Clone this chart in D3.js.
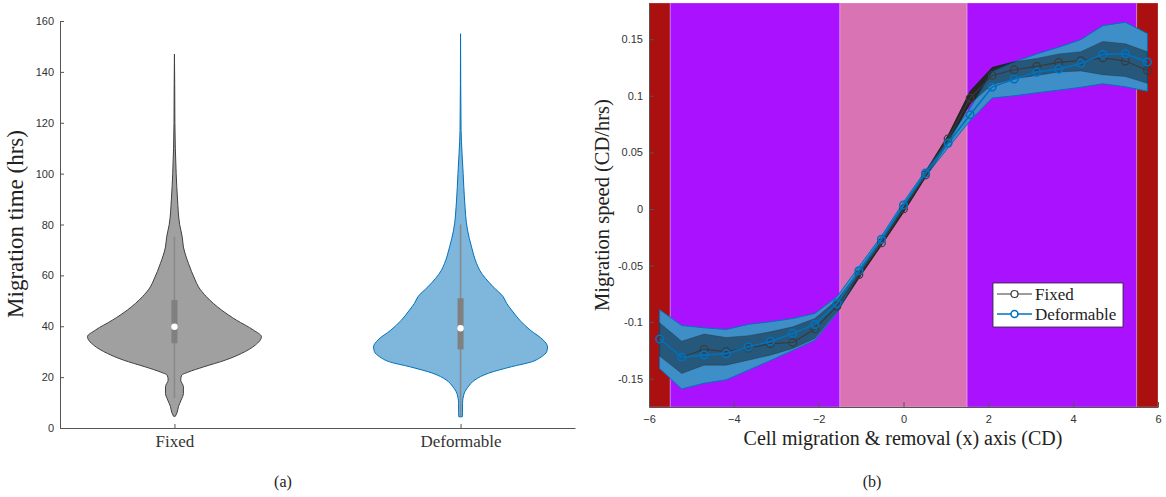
<!DOCTYPE html>
<html>
<head>
<meta charset="utf-8">
<script src="https://cdn.jsdelivr.net/npm/d3@7"></script>
<style>
  body { margin: 0; background: #fff; }
</style>
</head>
<body>
<svg id="chart" width="1166" height="497"></svg>
<script>
// ---------- data: (a) violins ----------
var groups = ["Fixed", "Deformable"];

// relative density (1 = widest point) at migration time (hrs)
var fixedHrs     = [4.6, 6, 8.4, 11, 13.6, 16.2, 18.9, 20.8, 22, 24, 26.7, 29.3, 32.6, 35.9, 38.5, 42.4, 46.4, 51.6, 55.5, 58.2, 64.7, 71.2, 75, 80, 90, 100, 110, 120, 135, 147];
var fixedDensity = [0.01, 0.03, 0.046, 0.077, 0.103, 0.103, 0.072, 0.084, 0.16, 0.333, 0.586, 0.77, 0.93, 1.0, 0.908, 0.713, 0.54, 0.368, 0.276, 0.238, 0.161, 0.103, 0.09, 0.06, 0.035, 0.02, 0.01, 0.005, 0.003, 0];

var deformHrs     = [4.4, 6, 9.7, 13.6, 16.2, 18.9, 21.5, 24.1, 26, 28, 30, 31.9, 34.6, 38.5, 42.4, 46.4, 49, 51.6, 55.5, 62, 64.7, 71.2, 77.8, 89.6, 100, 108, 117, 135, 155];
var deformDensity = [0.02, 0.022, 0.023, 0.042, 0.088, 0.165, 0.318, 0.586, 0.816, 0.93, 0.99, 1.0, 0.95, 0.80, 0.68, 0.586, 0.53, 0.49, 0.375, 0.22, 0.184, 0.126, 0.08, 0.046, 0.03, 0.017, 0.006, 0.002, 0];

// [lower whisker, q1, median, q3, upper whisker]
var fixedBox  = [11.8, 33.3, 39.8, 50.3, 75.2];
var deformBox = [4.8, 30.9, 39.2, 51.0, 80.0];

var yTicksA = [0, 20, 40, 60, 80, 100, 120, 140, 160];

// ---------- data: (b) migration speed ----------
var xPos = [-5.75, -5.23, -4.70, -4.18, -3.66, -3.14, -2.61, -2.09, -1.57, -1.05, -0.52, 0, 0.52, 1.05, 1.57, 2.09, 2.61, 3.14, 3.66, 4.18, 4.70, 5.23, 5.75];

var fixedMean = [-0.1153, -0.131, -0.124, -0.126, -0.123, -0.119, -0.118, -0.106, -0.086, -0.058, -0.030, 0.000, 0.030, 0.062, 0.098, 0.118, 0.123, 0.126, 0.1295, 0.131, 0.1335, 0.1307, 0.1224];
var fixedLo   = [-0.130, -0.1454, -0.138, -0.138, -0.1336, -0.1292, -0.1233, -0.1144, -0.0909, -0.061, -0.032, -0.003, 0.028, 0.058, 0.093, 0.110, 0.115, 0.118, 0.121, 0.122, 0.1186, 0.117, 0.111];
var fixedHi   = [-0.1006, -0.1168, -0.1106, -0.1136, -0.112, -0.1086, -0.1041, -0.0968, -0.0805, -0.055, -0.028, 0.002, 0.033, 0.065, 0.104, 0.125, 0.130, 0.133, 0.137, 0.139, 0.148, 0.146, 0.139];

var deformMean = [-0.115, -0.131, -0.129, -0.128, -0.122, -0.117, -0.110, -0.102, -0.0835, -0.0546, -0.0268, 0.0035, 0.0316, 0.0581, 0.0832, 0.1077, 0.1148, 0.121, 0.1236, 0.1286, 0.1366, 0.1372, 0.1298];
var deformLo   = [-0.141, -0.159, -0.154, -0.151, -0.1425, -0.134, -0.125, -0.116, -0.092, -0.058, -0.030, 0.001, 0.029, 0.054, 0.078, 0.098, 0.100, 0.1027, 0.105, 0.1075, 0.1106, 0.108, 0.104];
var deformHi   = [-0.089, -0.103, -0.105, -0.1065, -0.102, -0.0997, -0.0968, -0.0923, -0.0776, -0.051, -0.024, 0.006, 0.034, 0.061, 0.089, 0.1215, 0.130, 0.137, 0.143, 0.1496, 0.162, 0.165, 0.155];

// background regions along the x axis
var bandStart = [-6, -5.5, -1.5, 1.5, 5.5];
var bandEnd   = [-5.5, -1.5, 1.5, 5.5, 6];
var bandZone  = ["removal", "migration", "core", "migration", "removal"];

var xTicksB = [-6, -4, -2, 0, 2, 4, 6];
var yTicksB = [-0.15, -0.1, -0.05, 0, 0.05, 0.1, 0.15];


var serif = '"Liberation Serif", "Times New Roman", serif';
var sans = '"Liberation Sans", Arial, sans-serif';
var axisColor = '#555';
var textColor = '#333';

var svg = d3.select('#chart');

function styleAxis(g, font, size) {
  g.select('.domain').attr('stroke', axisColor);
  g.selectAll('.tick line').attr('stroke', axisColor);
  g.selectAll('.tick text')
    .attr('fill', textColor)
    .attr('font-family', font)
    .attr('font-size', size);
}

// ================= (a) =================
var xA = d3.scaleLinear().domain([0.6, 2.4]).range([60, 575]);
var yA = d3.scaleLinear().domain([0, 160]).range([428, 21]);
var wA = d3.scaleLinear().domain([0, 1]).range([0, 87]);

var gA = svg.append('g');

var violins = [
  { pos: 1, hrs: fixedHrs, den: fixedDensity, box: fixedBox, fill: '#a0a0a0', stroke: '#404040' },
  { pos: 2, hrs: deformHrs, den: deformDensity, box: deformBox, fill: '#7eb6dc', stroke: '#0072bd' }
];

violins.forEach(function (v) {
  var cx = xA(v.pos);
  var pts = v.hrs.map(function (h, i) { return { h: h, d: v.den[i] }; });

  var area = d3.area()
      .curve(d3.curveMonotoneY)
      .y(function (d) { return yA(d.h); })
      .x0(function (d) { return cx - wA(d.d); })
      .x1(function (d) { return cx + wA(d.d); });

  gA.append('path')
      .attr('d', area(pts))
      .attr('fill', v.fill)
      .attr('stroke', v.stroke)
      .attr('stroke-width', 1);

  // whisker
  gA.append('line')
      .attr('x1', cx).attr('x2', cx)
      .attr('y1', yA(v.box[0])).attr('y2', yA(v.box[4]))
      .attr('stroke', '#888')
      .attr('stroke-width', 1.5);

  // inter-quartile box
  gA.append('rect')
      .attr('x', cx - 3)
      .attr('width', 6)
      .attr('y', yA(v.box[3]))
      .attr('height', yA(v.box[1]) - yA(v.box[3]))
      .attr('fill', '#808080');

  // median
  gA.append('circle')
      .attr('cx', cx)
      .attr('cy', yA(v.box[2]))
      .attr('r', 3.2)
      .attr('fill', '#fff');
});

var axisYA = gA.append('g')
    .attr('transform', 'translate(60,0)')
    .call(d3.axisLeft(yA).tickValues(yTicksA).tickSize(-4).tickSizeOuter(0).tickPadding(6));
styleAxis(axisYA, sans, 11);

var axisXA = gA.append('g')
    .attr('transform', 'translate(0,428)')
    .call(d3.axisBottom(xA).tickValues([1, 2])
      .tickFormat(function (d, i) { return groups[i]; })
      .tickSize(-4).tickSizeOuter(0).tickPadding(7));
styleAxis(axisXA, serif, 17);

gA.append('text')
    .attr('transform', 'translate(23,224) rotate(-90)')
    .attr('text-anchor', 'middle')
    .attr('font-family', serif)
    .attr('font-size', 23)
    .attr('fill', '#222')
    .text('Migration time (hrs)');

gA.append('text')
    .attr('x', 283).attr('y', 487)
    .attr('text-anchor', 'middle')
    .attr('font-family', serif)
    .attr('font-size', 16)
    .attr('fill', '#222')
    .text('(a)');

// ================= (b) =================
var xB = d3.scaleLinear().domain([-6, 6]).range([649, 1158]);
var yB = d3.scaleLinear().domain([-0.175, 0.182]).range([407, 3]);
var zoneColor = d3.scaleOrdinal()
    .domain(['removal', 'migration', 'core'])
    .range(['#aa1010', '#aa12ff', '#d973b4']);

var gB = svg.append('g');

gB.selectAll('rect.band')
    .data(bandZone)
    .enter()
    .append('rect')
    .attr('class', 'band')
    .attr('x', function (d, i) { return xB(bandStart[i]); })
    .attr('width', function (d, i) { return xB(bandEnd[i]) - xB(bandStart[i]); })
    .attr('y', yB(0.182))
    .attr('height', yB(-0.175) - yB(0.182))
    .attr('fill', function (d) { return zoneColor(d); })
    .attr('stroke', 'rgba(255,255,255,0.3)')
    .attr('stroke-width', 0.8);

var fixedPts = xPos.map(function (x, i) { return { x: x, m: fixedMean[i], lo: fixedLo[i], hi: fixedHi[i] }; });
var deformPts = xPos.map(function (x, i) { return { x: x, m: deformMean[i], lo: deformLo[i], hi: deformHi[i] }; });

var band = d3.area()
    .x(function (d) { return xB(d.x); })
    .y0(function (d) { return yB(d.lo); })
    .y1(function (d) { return yB(d.hi); });

var line = d3.line()
    .x(function (d) { return xB(d.x); })
    .y(function (d) { return yB(d.m); });

// fixed spread where it shows outside the blue one
gB.append('path')
    .attr('d', band(fixedPts))
    .attr('fill', '#3c3c40')
    .attr('stroke', '#2a2a2a')
    .attr('stroke-width', 0.8);

// deformable spread
gB.append('path')
    .attr('d', band(deformPts))
    .attr('fill', '#3e8fc8')
    .attr('stroke', '#0072bd')
    .attr('stroke-width', 1);

// fixed spread over the blue one
gB.append('path')
    .attr('d', band(fixedPts))
    .attr('fill', '#000')
    .attr('fill-opacity', 0.38)
    .attr('stroke', '#222')
    .attr('stroke-opacity', 0.4)
    .attr('stroke-width', 0.8);

var series = [
  { name: groups[0], pts: fixedPts, color: '#3a3a3a', width: 1.2 },
  { name: groups[1], pts: deformPts, color: '#0072bd', width: 1.6 }
];

series.forEach(function (s) {
  gB.append('path')
      .attr('d', line(s.pts))
      .attr('fill', 'none')
      .attr('stroke', s.color)
      .attr('stroke-width', s.width);

  gB.selectAll(null)
      .data(s.pts)
      .enter()
      .append('circle')
      .attr('cx', function (d) { return xB(d.x); })
      .attr('cy', function (d) { return yB(d.m); })
      .attr('r', 3.8)
      .attr('fill', 'none')
      .attr('stroke', s.color)
      .attr('stroke-width', s.width);
});

var fmt = function (d) { return d === 0 ? '0' : String(+d.toFixed(2)); };

var axisYB = gB.append('g')
    .attr('transform', 'translate(649,0)')
    .call(d3.axisLeft(yB).tickValues(yTicksB).tickFormat(fmt).tickSize(-5).tickSizeOuter(0).tickPadding(6));
styleAxis(axisYB, sans, 11);

var axisXB = gB.append('g')
    .attr('transform', 'translate(0,407)')
    .call(d3.axisBottom(xB).tickValues(xTicksB).tickSize(-5).tickSizeOuter(0).tickPadding(8));
styleAxis(axisXB, sans, 11);

gB.append('text')
    .attr('transform', 'translate(609,205) rotate(-90)')
    .attr('text-anchor', 'middle')
    .attr('font-family', serif)
    .attr('font-size', 20.5)
    .attr('fill', '#222')
    .text('Migration speed (CD/hrs)');

gB.append('text')
    .attr('x', 903).attr('y', 445)
    .attr('text-anchor', 'middle')
    .attr('font-family', serif)
    .attr('font-size', 20)
    .attr('fill', '#222')
    .text('Cell migration & removal (x) axis (CD)');

gB.append('text')
    .attr('x', 872).attr('y', 487)
    .attr('text-anchor', 'middle')
    .attr('font-family', serif)
    .attr('font-size', 16)
    .attr('fill', '#222')
    .text('(b)');

// legend
var legend = gB.append('g').attr('transform', 'translate(993,283)');
legend.append('rect')
    .attr('width', 130).attr('height', 44)
    .attr('fill', '#fff')
    .attr('stroke', '#262626')
    .attr('stroke-width', 0.8);

series.forEach(function (s, i) {
  var row = legend.append('g').attr('transform', 'translate(0,' + (11 + i * 20) + ')');
  row.append('line')
      .attr('x1', 4).attr('x2', 39)
      .attr('stroke', s.color)
      .attr('stroke-width', s.width);
  row.append('circle')
      .attr('cx', 21.5).attr('r', 3.5)
      .attr('fill', '#fff')
      .attr('stroke', s.color)
      .attr('stroke-width', s.width);
  row.append('text')
      .attr('x', 42).attr('y', 6)
      .attr('font-family', serif)
      .attr('font-size', 17)
      .attr('fill', '#222')
      .text(s.name);
});
</script>
</body>
</html>
